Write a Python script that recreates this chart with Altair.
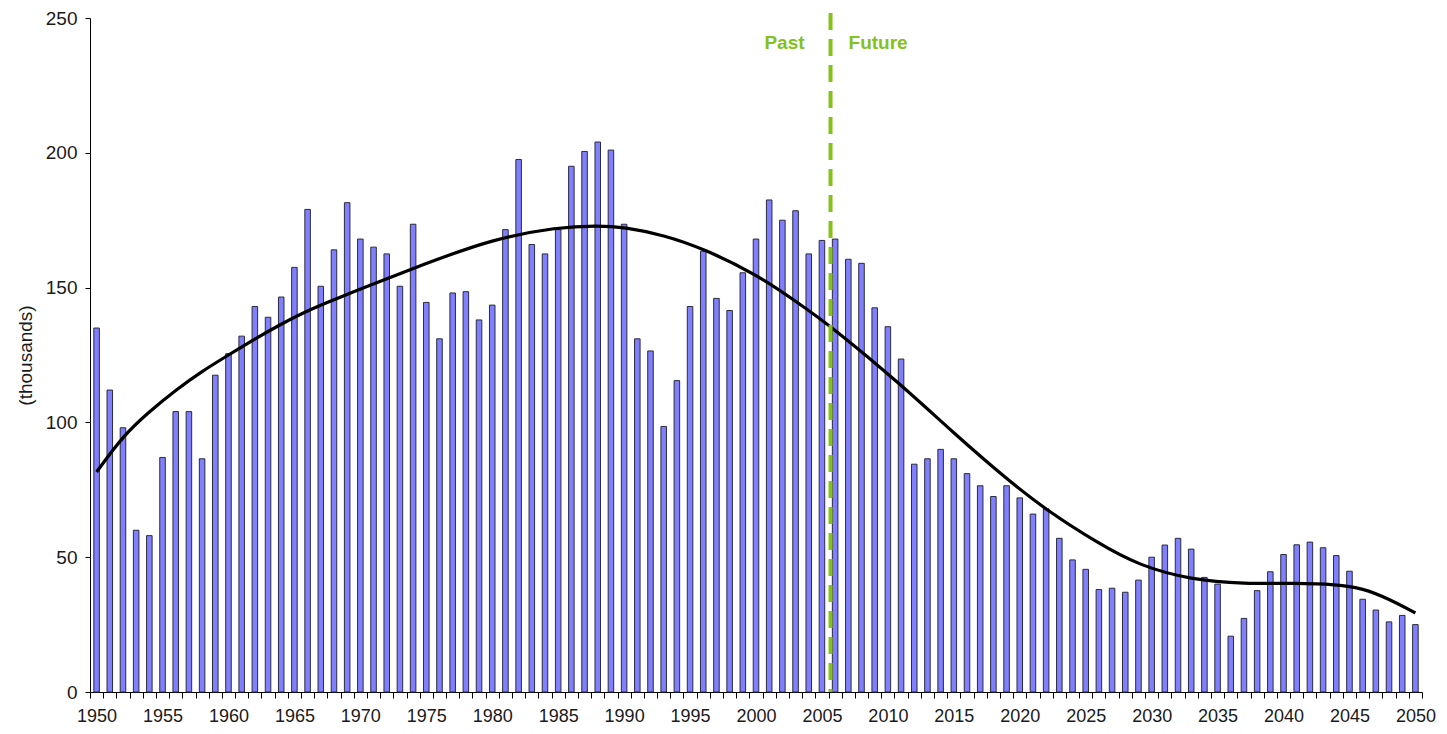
import altair as alt
import pandas as pd

years = list(range(1950, 2051))
values = [
    135, 112, 98, 60, 58, 87, 104, 104, 86.5, 117.5,
    125.5, 132, 143, 139, 146.5, 157.5, 179, 150.5, 164, 181.5,
    168, 165, 162.5, 150.5, 173.5, 144.5, 131, 148, 148.5, 138,
    143.5, 171.5, 197.5, 166, 162.5, 171.5, 195, 200.5, 204, 201,
    173.5, 131, 126.5, 98.5, 115.5, 143, 163.5, 146, 141.5, 155.5,
    168, 182.5, 175, 178.5, 162.5, 167.5, 168, 160.5, 159, 142.5,
    135.5, 123.5, 84.5, 86.5, 90, 86.5, 81, 76.5, 72.5, 76.5,
    72, 66, 68, 57, 49, 45.5, 38, 38.5, 37, 41.5,
    50, 54.5, 57, 53, 42.5, 40, 20.7, 27.3, 37.6, 44.6,
    51, 54.6, 55.6, 53.5, 50.6, 44.8, 34.4, 30.4, 26, 28.4,
    25,
]

trend_years = [1950, 1952, 1954, 1956, 1958, 1960, 1962, 1964, 1966, 1968,
               1970, 1975, 1980, 1985, 1988, 1990, 1993, 1996, 2000, 2003,
               2006, 2011, 2015, 2019, 2022, 2026, 2029, 2033, 2037, 2041,
               2044, 2046, 2048, 2050]
trend_vals = [81.6, 95, 104, 112, 119, 125, 131, 136.5, 141.5, 145.5,
              149.5, 159, 168, 172.5, 173, 172.5, 169.5, 164.5, 155, 145,
              134.5, 114, 96, 79, 67.5, 55, 47, 41.6, 40.1, 40.4,
              39.9, 38.5, 34.5, 29.3]

divider_year = [2006]
period_labels = ["Past", "Future"]

FONT = "Liberation Sans"
GREEN = "#84c21a"
TEXT = "#1a1a1a"

bars_df = pd.DataFrame({"year": years, "value": values})
trend_df = pd.DataFrame({"year": trend_years, "value": trend_vals})
div_df = pd.DataFrame({"year": divider_year})

xscale = alt.Scale(domain=years, paddingInner=0, paddingOuter=0)
yscale = alt.Scale(domain=[0, 250], nice=False)

x_axis = alt.Axis(
    title=None,
    labelAngle=0,
    labelExpr="datum.value % 5 == 0 ? datum.label : ''",
    tickBand="extent",
    tickSize=6,
    tickColor="#000000",
    domainColor="#000000",
    labelFont=FONT,
    labelFontSize=18,
    labelColor=TEXT,
    labelPadding=9,
    labelOverlap=False,
    labelBound=False,
    grid=False,
)
y_axis = alt.Axis(
    title="(thousands)",
    values=[0, 50, 100, 150, 200, 250],
    tickSize=5,
    tickColor="#000000",
    domainColor="#000000",
    labelFont=FONT,
    labelFontSize=19,
    labelColor=TEXT,
    labelPadding=8,
    titleFont=FONT,
    titleFontSize=19,
    titleFontWeight="normal",
    titleColor=TEXT,
    titlePadding=10,
    grid=False,
)

bars = alt.Chart(bars_df).mark_bar(
    width=alt.RelativeBandSize(0.42),
    color="#8080ff",
    stroke="#2b2b3b",
    strokeWidth=1,
).encode(
    x=alt.X("year:O", scale=xscale, axis=x_axis),
    y=alt.Y("value:Q", scale=yscale, axis=y_axis),
)

trend = alt.Chart(trend_df).mark_line(
    color="#000000", strokeWidth=3.2, interpolate="basis"
).encode(
    x=alt.X("year:O", scale=xscale),
    y=alt.Y("value:Q", scale=yscale),
)

divider = alt.Chart(div_df).mark_rule(
    color=GREEN, strokeWidth=4, strokeDash=[17, 9], xOffset=2
).encode(
    x=alt.X("year:O", scale=xscale, bandPosition=0),
    y=alt.value(-5),
    y2=alt.value(674),
)

past = alt.Chart(div_df).mark_text(
    text=period_labels[0], color=GREEN, font=FONT, fontSize=19,
    fontWeight="bold", align="right", baseline="middle", dx=-24,
).encode(
    x=alt.X("year:O", scale=xscale, bandPosition=0),
    y=alt.value(25),
)

future = alt.Chart(div_df).mark_text(
    text=period_labels[1], color=GREEN, font=FONT, fontSize=19,
    fontWeight="bold", align="left", baseline="middle", dx=20,
).encode(
    x=alt.X("year:O", scale=xscale, bandPosition=0),
    y=alt.value(25),
)

chart = alt.layer(bars, trend, divider, past, future).properties(
    width=1332,
    height=674,
    autosize=alt.AutoSizeParams(type="none"),
    padding={"left": 82, "top": 10, "right": 16, "bottom": 32},
    background="white",
).configure_view(stroke=None)

chart.save("out.html", embed_options={"renderer": "svg", "actions": False})
